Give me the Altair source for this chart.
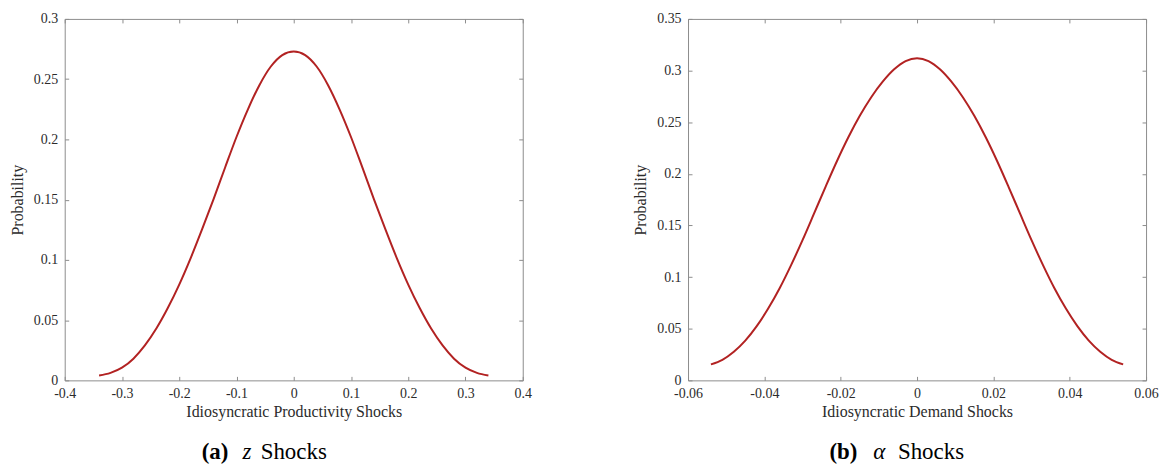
import altair as alt
import pandas as pd

# ---- data ----
z_x = [-0.34, -0.32, -0.30, -0.28, -0.26, -0.24, -0.22, -0.20, -0.18, -0.16, -0.14, -0.12,
       -0.10, -0.08, -0.06, -0.04, -0.02, 0.00, 0.02, 0.04, 0.06, 0.08, 0.10, 0.12, 0.14,
       0.16, 0.18, 0.20, 0.22, 0.24, 0.26, 0.28, 0.30, 0.32, 0.34]
z_prob = [0.0040, 0.0062, 0.0105, 0.0180, 0.0290, 0.0430, 0.0600, 0.0795, 0.1015, 0.1255,
          0.1505, 0.1765, 0.2020, 0.2250, 0.2450, 0.2605, 0.2700, 0.2730, 0.2700, 0.2605,
          0.2450, 0.2250, 0.2020, 0.1765, 0.1505, 0.1255, 0.1015, 0.0795, 0.0600, 0.0430,
          0.0290, 0.0180, 0.0105, 0.0062, 0.0040]

a_x = [-0.054, -0.051, -0.048, -0.045, -0.042, -0.039, -0.036, -0.033, -0.030, -0.027,
       -0.024, -0.021, -0.018, -0.015, -0.012, -0.009, -0.006, -0.003, 0.000, 0.003, 0.006,
       0.009, 0.012, 0.015, 0.018, 0.021, 0.024, 0.027, 0.030, 0.033, 0.036, 0.039, 0.042,
       0.045, 0.048, 0.051, 0.054]
a_prob = [0.0155, 0.0199, 0.0277, 0.0385, 0.0525, 0.0695, 0.0892, 0.1116, 0.1358, 0.1614,
          0.1872, 0.2122, 0.2354, 0.2562, 0.2742, 0.2892, 0.3012, 0.3092, 0.3120, 0.3092,
          0.3012, 0.2892, 0.2742, 0.2562, 0.2354, 0.2122, 0.1872, 0.1614, 0.1358, 0.1116,
          0.0892, 0.0695, 0.0525, 0.0385, 0.0277, 0.0199, 0.0155]

z_xticks = [-0.4, -0.3, -0.2, -0.1, 0, 0.1, 0.2, 0.3, 0.4]
z_yticks = [0, 0.05, 0.1, 0.15, 0.2, 0.25, 0.3]
a_xticks = [-0.06, -0.04, -0.02, 0, 0.02, 0.04, 0.06]
a_yticks = [0, 0.05, 0.1, 0.15, 0.2, 0.25, 0.3, 0.35]

z_xtitle = "Idiosyncratic Productivity Shocks"
a_xtitle = "Idiosyncratic Demand Shocks"
ytitle = "Probability"
z_caption = ["(a)", "z", "Shocks"]
a_caption = ["(b)", "α", "Shocks"]

FONT = "Liberation Serif"
AXC = "#8c8c8c"
TXT = "#2b2b2b"
RED = "#b22222"
W, H = 460, 363
LBL = "'' + datum.value"


def panel(xs, ys, xt, yt, xtitle, caption, cap_pos):
    df = pd.DataFrame({"x": xs, "p": ys})
    xsc = alt.Scale(domain=[xt[0], xt[-1]], nice=False, zero=False)
    ysc = alt.Scale(domain=[yt[0], yt[-1]], nice=False, zero=False)
    common = dict(offset=-4, tickSize=4, domain=False, grid=False, tickColor=AXC,
                  labelFont=FONT, labelFontSize=14, labelColor=TXT,
                  titleFont=FONT, titleFontSize=16, titleColor=TXT, titleFontWeight="normal")
    main = alt.Chart(df).mark_line(color=RED, strokeWidth=2, interpolate="monotone").encode(
        x=alt.X("x:Q", scale=xsc,
                axis=alt.Axis(orient="bottom", values=xt, labelExpr=LBL, title=xtitle,
                              labelPadding=6, titlePadding=3, labelFlush=False, **common)),
        y=alt.Y("p:Q", scale=ysc,
                axis=alt.Axis(orient="left", values=yt, labelExpr=LBL, title=ytitle,
                              labelPadding=7, titlePadding=8, labelFlush=False, **common)),
    )
    mirror = alt.Chart(df).mark_line(opacity=0).encode(
        x=alt.X("x:Q", scale=xsc,
                axis=alt.Axis(orient="top", values=xt, labels=False, title=None, **common)),
        y=alt.Y("p:Q", scale=ysc,
                axis=alt.Axis(orient="right", values=yt, labels=False, title=None, **common)),
    )
    layers = [main, mirror]
    styles = [("bold", "normal"), ("normal", "italic"), ("normal", "normal")]
    for txt, (wt, st), px in zip(caption, styles, cap_pos):
        layers.append(
            alt.Chart(pd.DataFrame({"t": [txt]})).mark_text(
                font=FONT, fontSize=23, fontWeight=wt, fontStyle=st, align="center",
                baseline="alphabetic", color="#000000"
            ).encode(text="t:N", x=alt.value(px), y=alt.value(442))
        )
    return alt.layer(*layers).resolve_scale(x="independent", y="independent").properties(
        width=W, height=H)


left = panel(z_x, z_prob, z_xticks, z_yticks, z_xtitle, z_caption, [151, 183, 230])
right = panel(a_x, a_prob, a_xticks, a_yticks, a_xtitle, a_caption, [156, 192, 244])

chart = alt.hconcat(left, right, spacing=100).properties(
    padding={"left": 9, "top": 10, "right": 0, "bottom": 0}
).configure(background="white").configure_view(stroke=AXC, strokeWidth=1)

chart.save("out.html", embed_options={"renderer": "svg", "actions": False})
